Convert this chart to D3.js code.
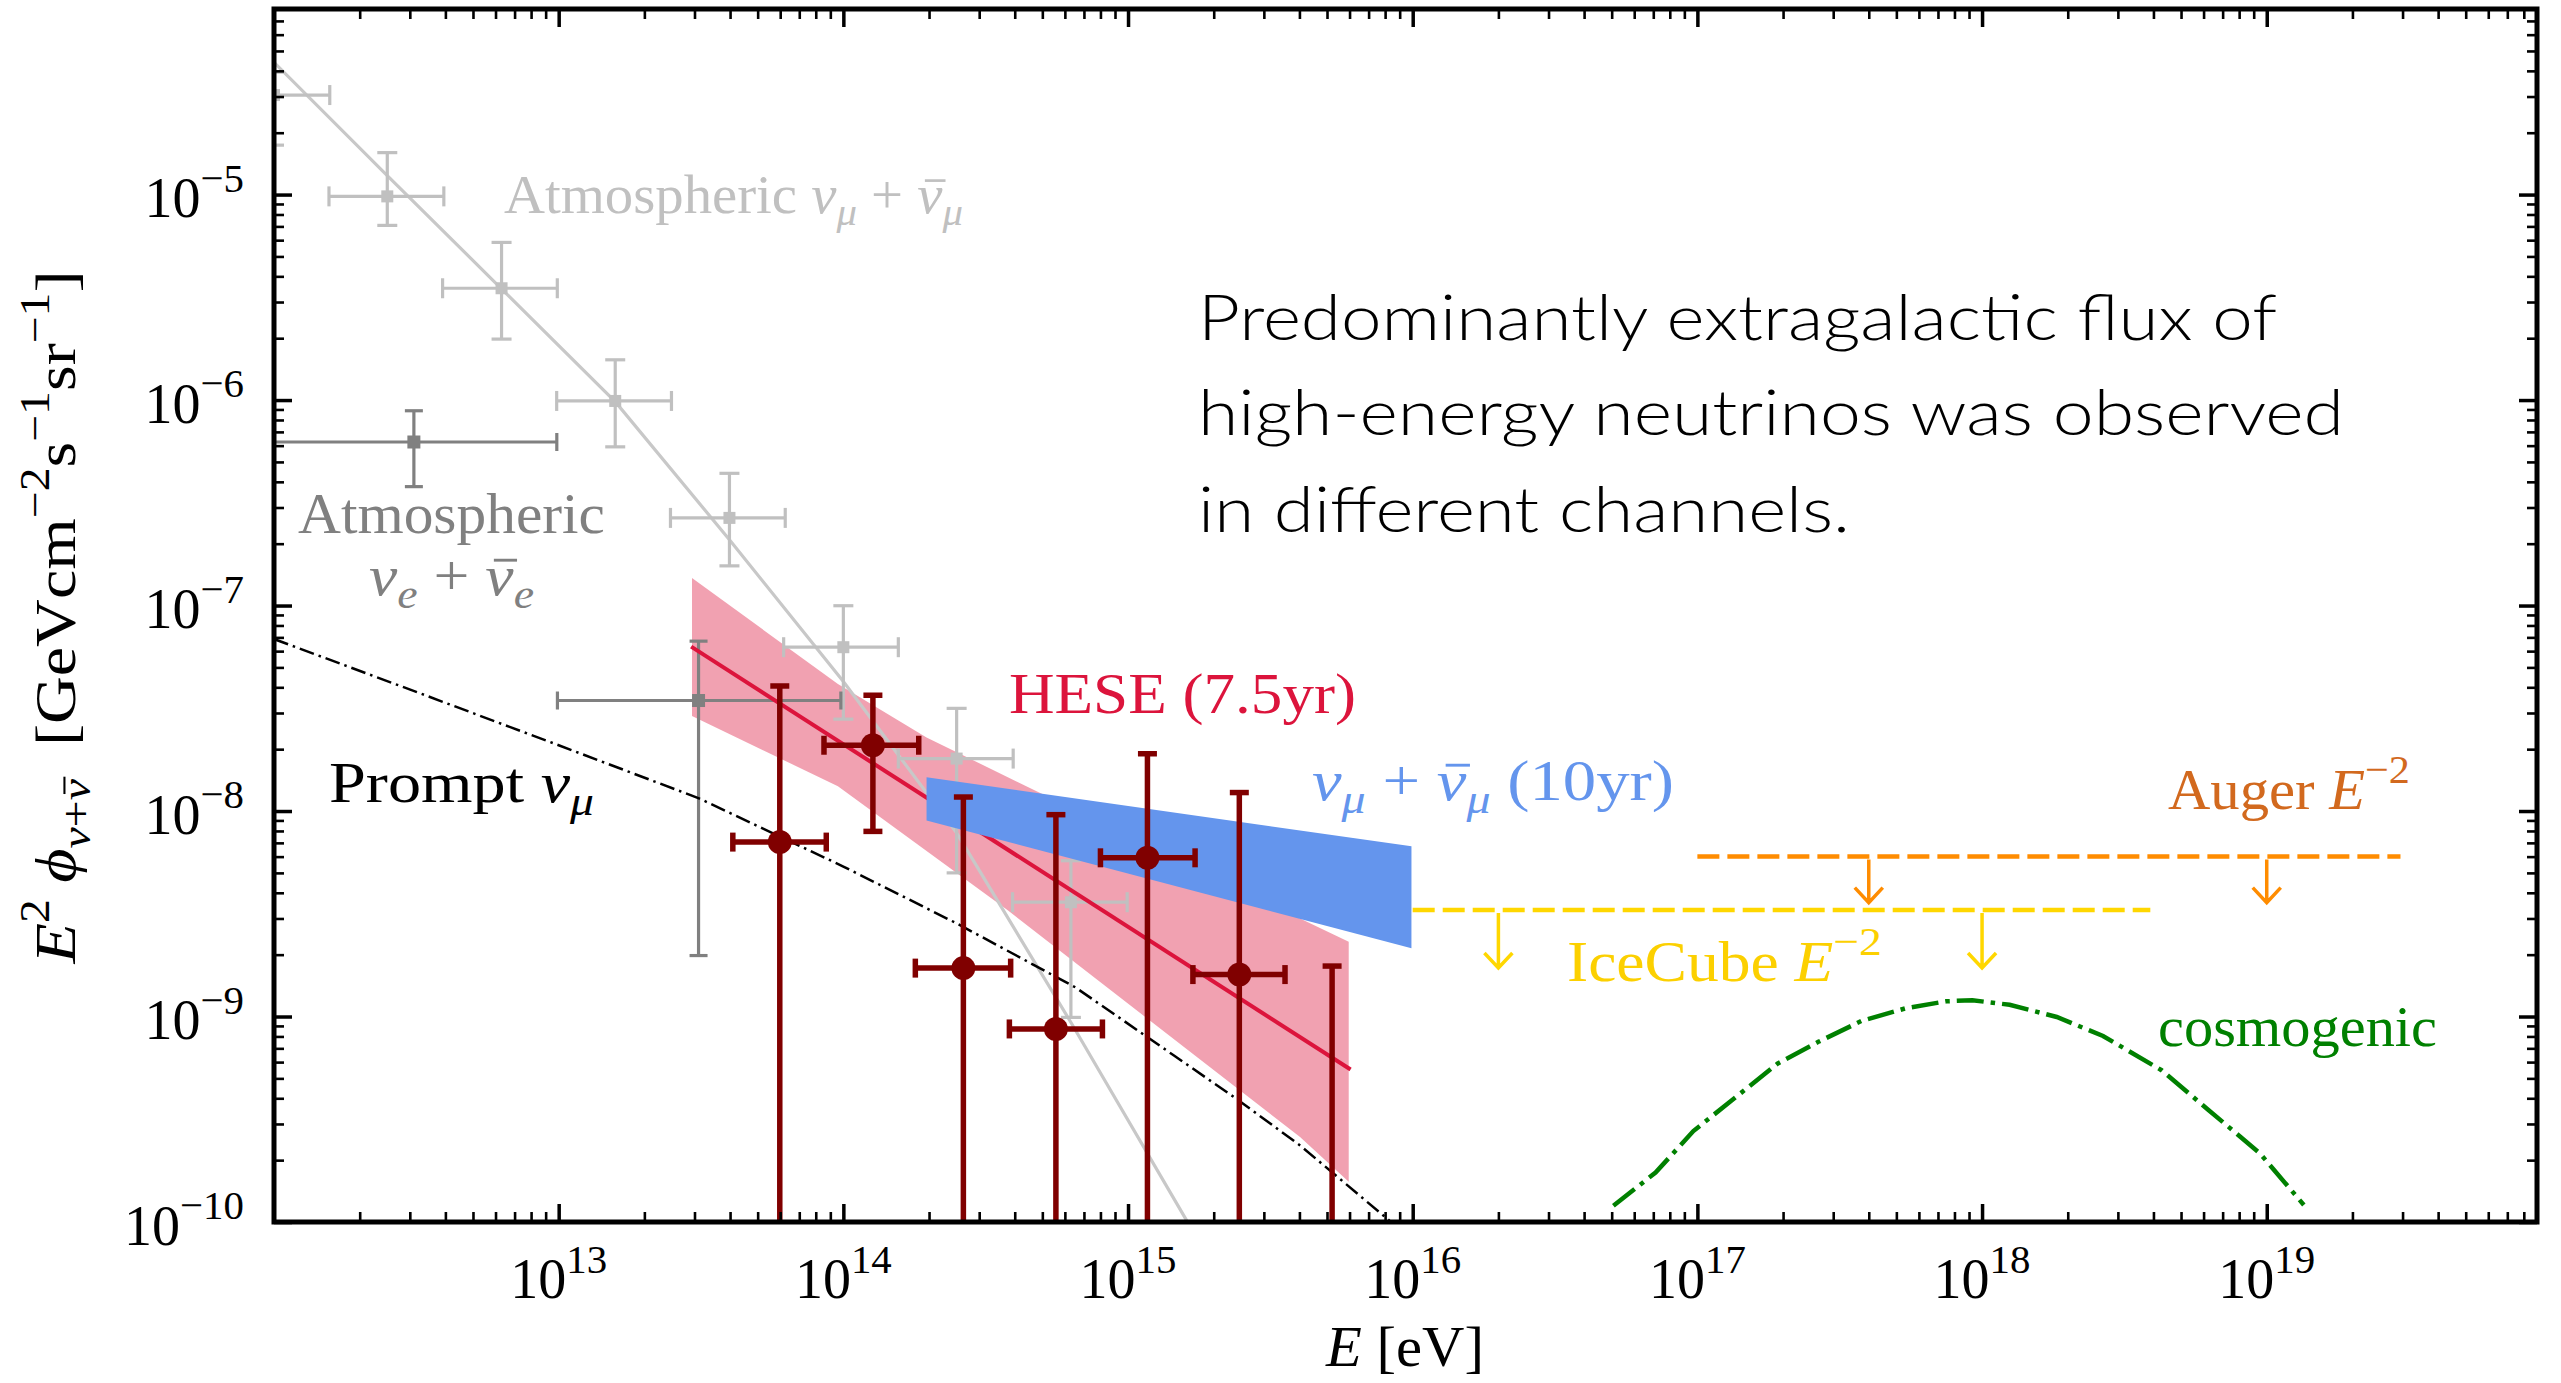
<!DOCTYPE html>
<html><head><meta charset="utf-8">
<script src="https://cdn.jsdelivr.net/npm/d3@7"></script>
<style>
html,body{margin:0;padding:0;background:#fff;}
svg{display:block;}
text{white-space:pre;}
</style></head><body>
<svg id="chart" width="2561" height="1383"></svg>
<script>
// ---------------- DATA ----------------
const xTickValues = [1e13, 1e14, 1e15, 1e16, 1e17, 1e18, 1e19];
const xTickExponents = ["13", "14", "15", "16", "17", "18", "19"];
const yTickValues = [1e-10, 1e-9, 1e-8, 1e-7, 1e-6, 1e-5];
const yTickExponents = ["\u221210", "\u22129", "\u22128", "\u22127", "\u22126", "\u22125"];

// Atmospheric nu_mu + nubar_mu (light gray points)
const atmMuE     = [1e12, 2.5e12, 6.3e12, 1.58e13, 3.98e13, 1e14, 2.5e14, 6.3e14];
const atmMuELow  = [6.3e11, 1.56e12, 3.91e12, 9.84e12, 2.47e13, 6.17e13, 1.56e14, 3.93e14];
const atmMuEHigh = [1.57e12, 3.95e12, 9.89e12, 2.49e13, 6.25e13, 1.56e14, 3.95e14, 9.93e14];
const atmMuF     = [3.05e-5, 9.8e-6, 3.5e-6, 9.9e-7, 2.67e-7, 6.27e-8, 1.8e-8, 3.6e-9];
const atmMuFLow  = [1.74e-5, 7.08e-6, 1.98e-6, 5.92e-7, 1.56e-7, 2.8e-8, 5.0e-9, 9.9e-10];
const atmMuFHigh = [3.94e-5, 1.6e-5, 5.85e-6, 1.57e-6, 4.4e-7, 9.98e-8, 3.16e-8, 5.73e-9];

// Atmospheric nu_mu model curve (light gray line)
const atmModelE = [1e12, 2.51e12, 6.31e12, 1.585e13, 3.98e13, 1e14, 2.51e14, 6.31e14, 1.585e15, 2e15];
const atmModelF = [4.4e-5, 1.23e-5, 3.47e-6, 9.77e-7, 2.09e-7, 4.27e-8, 7.76e-9, 9.33e-10, 1.05e-10, 6e-11];

// Atmospheric nu_e + nubar_e (dark gray points)
const atmEE     = [3.1e12, 3.1e13];
const atmEELow  = [1e12, 9.9e12];
const atmEEHigh = [9.85e12, 9.8e13];
const atmEF     = [6.25e-7, 3.45e-8];
const atmEFLow  = [3.79e-7, 1.98e-9];
const atmEFHigh = [8.87e-7, 6.71e-8];

// Prompt nu_mu (black dash-dot)
const promptE = [1e12, 3.16e12, 1e13, 3.11e13, 1e14, 2.5e14, 6.53e14, 1.45e15, 2.42e15, 4.02e15, 8.28e15, 1e16];
const promptF = [6.87e-8, 3.8e-8, 2.09e-8, 1.153e-8, 5.37e-9, 2.84e-9, 1.387e-9, 6.46e-10, 3.95e-10, 2.36e-10, 1.016e-10, 7.9e-11];

// HESE 7.5 yr band and best fit
const heseBandTopE = [2.94e13, 9.57e13, 1.96e14, 5.06e14, 4.23e15, 5.96e15];
const heseBandTopF = [1.36e-7, 4.15e-8, 2.28e-8, 1.2e-8, 2.9e-9, 2.31e-9];
const heseBandBotE = [2.94e13, 9.57e13, 3.79e14, 4.02e15, 5.96e15];
const heseBandBotF = [2.9e-8, 1.32e-8, 3.28e-9, 2.59e-10, 1.57e-10];
const heseFitE = [2.92e13, 6.05e15];
const heseFitF = [6.31e-8, 5.52e-10];

// HESE data points (null lower error = extends below the plot)
const heseE     = [5.98e13, 1.27e14, 2.64e14, 5.58e14, 1.17e15, 2.46e15, 5.21e15];
const heseELow  = [4.09e13, 8.55e13, 1.79e14, 3.83e14, 8.0e14, 1.69e15, null];
const heseEHigh = [8.71e13, 1.84e14, 3.87e14, 8.13e14, 1.72e15, 3.56e15, null];
const heseF     = [7.06e-9, 2.09e-8, 1.72e-9, 8.7e-10, 5.92e-9, 1.6e-9, null];
const heseFLow  = [null, 7.96e-9, null, null, null, null, null];
const heseFHigh = [4.06e-8, 3.66e-8, 1.17e-8, 9.6e-9, 1.9e-8, 1.23e-8, 1.76e-9];

// nu_mu 10 yr band
const numuBandE = [1.96e14, 9.9e15];
const numuBandTop = [1.46e-8, 6.73e-9];
const numuBandBot = [9.0e-9, 2.15e-9];

// Upper limits (E^-2)
const icecubeLimitE = [1.0e16, 3.9e18];
const icecubeLimitF = 3.3e-9;
const icecubeArrowE = [2e16, 1e18];
const augerLimitE = [1.0e17, 2.95e19];
const augerLimitF = 6.0e-9;
const augerArrowE = [4e17, 1e19];

// Cosmogenic flux
const cosmoE = [5.07e16, 7.13e16, 9.68e16, 1.315e17, 1.91e17, 2.66e17, 3.78e17, 5.38e17, 7.48e17, 9.25e17,
                1.25e18, 1.83e18, 2.66e18, 4.27e18, 6.21e18, 9.46e18, 1.35e19];
const cosmoF = [1.2e-10, 1.74e-10, 2.77e-10, 3.89e-10, 5.89e-10, 7.53e-10, 9.53e-10, 1.096e-9, 1.186e-9, 1.2e-9,
                1.14e-9, 9.95e-10, 8.04e-10, 5.48e-10, 3.53e-10, 2.16e-10, 1.21e-10];

const messageLines = ["Predominantly extragalactic flux of", "high-energy neutrinos was observed", "in different channels."];

// ---------------- CHART ----------------
const SERIF = "'Liberation Serif', 'DejaVu Serif', serif";
const svg = d3.select("#chart");
const X0 = 274, X1 = 2537, Y0 = 1222, Y1 = 9;
const x = d3.scaleLog().domain([1e12, 8.9e19]).range([X0, X1]);
const y = d3.scaleLog().domain([1e-10, 8e-5]).range([Y0, Y1]);

svg.append("defs").append("clipPath").attr("id", "plotclip")
  .append("rect").attr("x", X0).attr("y", Y1).attr("width", X1 - X0).attr("height", Y0 - Y1);
const plot = svg.append("g").attr("clip-path", "url(#plotclip)");

const zip = (a, b) => a.map((v, i) => [v, b[i]]);
const line = d3.line().x(d => x(d[0])).y(d => y(d[1]));

// HESE band
const bandPts = zip(heseBandTopE, heseBandTopF).concat(zip(heseBandBotE, heseBandBotF).reverse());
plot.append("path").attr("d", line(bandPts) + "Z")
  .attr("fill", "#dc143c").attr("fill-opacity", 0.4).attr("stroke", "none");

// atmospheric model line
plot.append("path").attr("d", line(zip(atmModelE, atmModelF)))
  .attr("fill", "none").attr("stroke", "#c8c8c8").attr("stroke-width", 3.2);

// generic error-bar drawer
function errorBars(g, E, EL, EH, F, FL, FH, st) {
  E.forEach((e, i) => {
    const cx = x(e);
    const cy = F[i] == null ? null : y(F[i]);
    const yTop = y(FH[i]);
    const yBot = FL[i] == null ? Y0 + 40 : y(FL[i]);
    g.append("line").attr("x1", cx).attr("x2", cx).attr("y1", yTop).attr("y2", yBot)
      .attr("stroke", st.color).attr("stroke-width", st.lw);
    g.append("line").attr("x1", cx - st.cap).attr("x2", cx + st.cap).attr("y1", yTop).attr("y2", yTop)
      .attr("stroke", st.color).attr("stroke-width", st.lw);
    if (FL[i] != null)
      g.append("line").attr("x1", cx - st.cap).attr("x2", cx + st.cap).attr("y1", yBot).attr("y2", yBot)
        .attr("stroke", st.color).attr("stroke-width", st.lw);
    if (EL[i] != null && cy != null) {
      const xl = x(EL[i]), xr = x(EH[i]);
      g.append("line").attr("x1", xl).attr("x2", xr).attr("y1", cy).attr("y2", cy)
        .attr("stroke", st.color).attr("stroke-width", st.lw);
      [xl, xr].forEach(xx => g.append("line").attr("x1", xx).attr("x2", xx)
        .attr("y1", cy - st.cap).attr("y2", cy + st.cap)
        .attr("stroke", st.color).attr("stroke-width", st.lw));
    }
    if (cy != null) {
      if (st.marker === "square")
        g.append("rect").attr("x", cx - st.ms / 2).attr("y", cy - st.ms / 2)
          .attr("width", st.ms).attr("height", st.ms).attr("fill", st.color);
      else
        g.append("circle").attr("cx", cx).attr("cy", cy).attr("r", st.ms / 2).attr("fill", st.color);
    }
  });
}

errorBars(plot, atmMuE, atmMuELow, atmMuEHigh, atmMuF, atmMuFLow, atmMuFHigh,
  {color: "#c0c0c0", lw: 3.2, cap: 10, ms: 12, marker: "square"});
errorBars(plot, atmEE, atmEELow, atmEEHigh, atmEF, atmEFLow, atmEFHigh,
  {color: "#808080", lw: 3.2, cap: 9, ms: 13, marker: "square"});

// HESE fit line
plot.append("path").attr("d", line(zip(heseFitE, heseFitF)))
  .attr("fill", "none").attr("stroke", "#dc143c").attr("stroke-width", 4);

// prompt
plot.append("path").attr("d", line(zip(promptE, promptF)))
  .attr("fill", "none").attr("stroke", "#000").attr("stroke-width", 2.5)
  .attr("stroke-dasharray", "15,5,2.5,5");

// numu band
const numuPts = zip(numuBandE, numuBandTop).concat(zip(numuBandE, numuBandBot).reverse());
plot.append("path").attr("d", line(numuPts) + "Z").attr("fill", "#6495ed").attr("stroke", "none");

// HESE points
errorBars(plot, heseE, heseELow, heseEHigh, heseF, heseFLow, heseFHigh,
  {color: "#800000", lw: 5.5, cap: 9.5, ms: 24, marker: "circle"});

// upper limits
function upperLimit(E, F, arrows, color, len) {
  plot.append("path").attr("d", line(E.map(e => [e, F])))
    .attr("fill", "none").attr("stroke", color).attr("stroke-width", 4.5)
    .attr("stroke-dasharray", "22,8");
  arrows.forEach(e => {
    const ax = x(e), ay = y(F) + 3, tip = y(F) + len;
    plot.append("path")
      .attr("d", `M${ax},${ay}L${ax},${tip}M${ax - 14},${tip - 15}L${ax},${tip}L${ax + 14},${tip - 15}`)
      .attr("fill", "none").attr("stroke", color).attr("stroke-width", 3.5);
  });
}
upperLimit(icecubeLimitE, icecubeLimitF, icecubeArrowE, "#ffd700", 58);
upperLimit(augerLimitE, augerLimitF, augerArrowE, "#ff8c00", 46);

// cosmogenic
plot.append("path").attr("d", line(zip(cosmoE, cosmoF)))
  .attr("fill", "none").attr("stroke", "#008000").attr("stroke-width", 4.5)
  .attr("stroke-dasharray", "27,7,4.5,7");

// ---------------- AXES ----------------
const xMinor = [], yMinor = [];
for (let d = 12; d <= 19; d++) for (let k = 2; k <= 9; k++) {
  const v = k * Math.pow(10, d); if (v < 8.85e19) xMinor.push(v);
}
for (let d = -10; d <= -5; d++) for (let k = 2; k <= 9; k++) {
  const v = k * Math.pow(10, d); if (v < 7.9e-5) yMinor.push(v);
}
function drawAxis(gen, tr, vals, size, w) {
  const g = svg.append("g").attr("transform", tr)
    .call(gen.tickValues(vals).tickSize(-size).tickFormat(""));
  g.select(".domain").remove();
  g.selectAll("line").attr("stroke", "#000").attr("stroke-width", w);
}
[[d3.axisBottom(x), `translate(0,${Y0})`], [d3.axisTop(x), `translate(0,${Y1})`]].forEach(([a, t]) => {
  drawAxis(a, t, xTickValues, 18, 3.5);
  drawAxis(a, t, xMinor, 10, 2.6);
});
[[d3.axisLeft(y), `translate(${X0},0)`], [d3.axisRight(y), `translate(${X1},0)`]].forEach(([a, t]) => {
  drawAxis(a, t, yTickValues, 18, 3.5);
  drawAxis(a, t, yMinor, 10, 2.6);
});
svg.append("rect").attr("x", X0).attr("y", Y1).attr("width", X1 - X0).attr("height", Y0 - Y1)
  .attr("fill", "none").attr("stroke", "#000").attr("stroke-width", 5);

// ---------------- TEXT ----------------
// parts: {t, i: italic, sup/sub: shift (em), sc: scale, bar: overbar on the glyph}
function mathText(parent, x0, y0, parts, o) {
  const size = o.size, color = o.color || "#000";
  const g = parent.append("g");
  if (o.transform) g.attr("transform", o.transform);
  const t = g.append("text").attr("x", x0).attr("y", y0)
    .attr("font-size", size).attr("fill", color)
    .attr("text-anchor", o.anchor || "start")
    .style("font-family", o.family || SERIF);
  let cur = 0, idx = 0;
  const bars = [];
  parts.forEach(p => {
    let shift = 0, sc = 1;
    if (p.sup) { shift = p.sup === true ? 0.42 : p.sup; sc = p.sc || 0.72; }
    if (p.sub) { shift = -(p.sub === true ? 0.22 : p.sub); sc = p.sc || 0.72; }
    const target = -shift * size;
    const ts = t.append("tspan").text(p.t).attr("font-size", size * sc)
      .attr("dy", (target - cur).toFixed(2));
    if (p.i) ts.style("font-style", "italic");
    if (p.bar) bars.push({idx: idx, fs: size * sc});
    idx += p.t.length;
    cur = target;
  });
  if (o.width) t.attr("textLength", o.width).attr("lengthAdjust", "spacingAndGlyphs");
  const node = t.node();
  bars.forEach(b => {
    const s = node.getStartPositionOfChar(b.idx);
    const e = node.getEndPositionOfChar(b.idx);
    const w = e.x - s.x;
    const yb = s.y - 0.6 * b.fs;
    g.append("line").attr("x1", s.x + 0.3 * w).attr("x2", e.x + 0.12 * w)
      .attr("y1", yb).attr("y2", yb).attr("stroke", color).attr("stroke-width", 0.05 * b.fs);
  });
  return t;
}

// tick labels
xTickValues.forEach((v, i) => mathText(svg, x(v), 1298,
  [{t: "10"}, {t: xTickExponents[i], sup: 0.45, sc: 0.73}], {size: 56, anchor: "middle"}));
yTickValues.forEach((v, i) => mathText(svg, 244, y(v) + 22.5,
  [{t: "10"}, {t: yTickExponents[i], sup: 0.45, sc: 0.73}], {size: 56, anchor: "end"}));

// axis labels
mathText(svg, 1326, 1366, [{t: "E", i: true}, {t: " [eV]"}], {size: 58, width: 158});
mathText(svg, 0, 0, [
  {t: "E", i: true}, {t: "2", sup: 0.45}, {t: " "}, {t: "\u03d5", i: true},
  {t: "\u03bd", i: true, sub: 0.25}, {t: "+", sub: 0.25}, {t: "\u03bd", i: true, sub: 0.25, bar: true},
  {t: "  [GeVcm"}, {t: "\u22122", sup: 0.45}, {t: "s"}, {t: "\u22121", sup: 0.45},
  {t: "sr"}, {t: "\u22121", sup: 0.45}, {t: "]"}
], {size: 58, anchor: "middle", transform: "translate(75,617) rotate(-90)", width: 693});

// annotations
const nuPair = (flav, sub) => [{t: "\u03bd", i: true}, {t: flav, i: true, sub: sub}, {t: " + "},
                   {t: "\u03bd", i: true, bar: true}, {t: flav, i: true, sub: sub}];
mathText(svg, 504, 213, [{t: "Atmospheric "}].concat(nuPair("\u03bc", true)), {size: 54, color: "#c0c0c0", width: 459});
mathText(svg, 298, 533, [{t: "Atmospheric"}], {size: 58, color: "#808080", width: 307});
mathText(svg, 369, 595, nuPair("e", true), {size: 58, color: "#808080", width: 165});
mathText(svg, 329, 802, [{t: "Prompt "}, {t: "\u03bd", i: true}, {t: "\u03bc", i: true, sub: true}],
  {size: 58, width: 265});
mathText(svg, 1009, 713, [{t: "HESE (7.5yr)"}], {size: 58, color: "#dc143c", width: 347});
mathText(svg, 1312, 800, nuPair("\u03bc", true).concat([{t: " (10yr)"}]), {size: 58, color: "#6495ed", width: 362});
mathText(svg, 2168, 809, [{t: "Auger "}, {t: "E", i: true}, {t: "\u22122", sup: 0.46}],
  {size: 56, color: "#d2691e", width: 242});
mathText(svg, 1567, 981, [{t: "IceCube "}, {t: "E", i: true}, {t: "\u22122", sup: 0.46}],
  {size: 56, color: "#fcd000", width: 315});
mathText(svg, 2158, 1046, [{t: "cosmogenic"}], {size: 56, color: "#008000", width: 279});

// message
const msgWidths = [1079, 1146, 652];
const msgBase = [340, 435, 532];
messageLines.forEach((s, i) => {
  svg.append("text").attr("x", 1198).attr("y", msgBase[i])
    .style("font-family", "Lato, 'Open Sans', 'Noto Sans', sans-serif").style("font-weight", 300)
    .attr("font-size", 64).attr("fill", "#000")
    .attr("textLength", msgWidths[i]).attr("lengthAdjust", "spacingAndGlyphs")
    .text(s);
});
</script></body></html>
